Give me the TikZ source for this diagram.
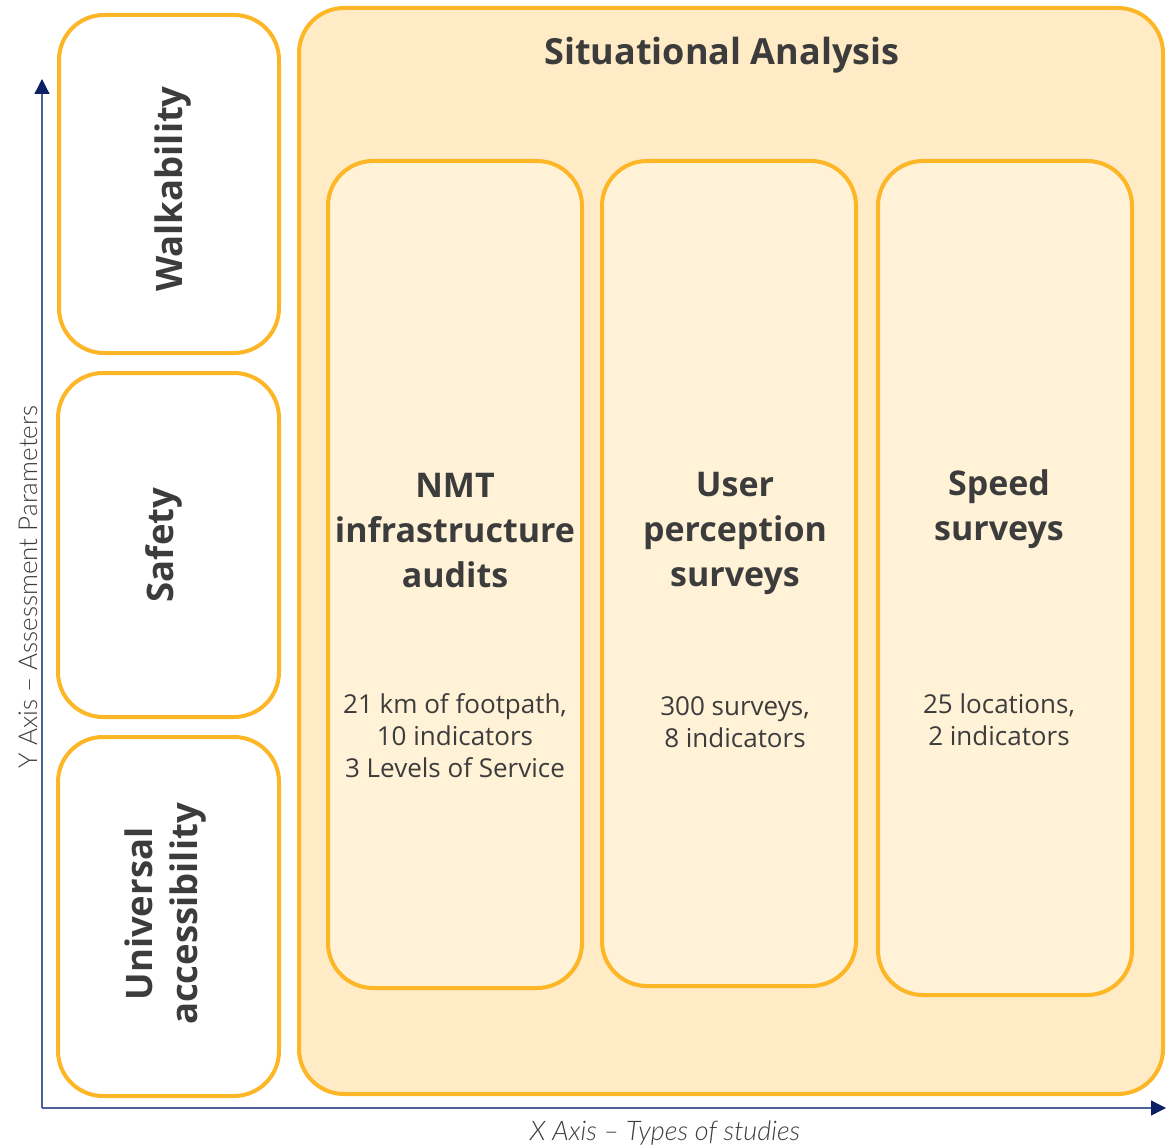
\documentclass[tikz,border=0pt]{standalone}
\usepackage{fontspec}
\setmainfont{Open Sans}
\newfontfamily\lightfont{Lato}[UprightFont=* Light, ItalicFont=* Light Italic]
\usetikzlibrary{arrows.meta}
\definecolor{amber}{HTML}{FDB626}
\definecolor{panelfill}{HTML}{FFEBC5}
\definecolor{cardfill}{HTML}{FFF2D7}
\definecolor{inktext}{HTML}{3C3C3C}
\definecolor{axisline}{HTML}{4A6298}
\definecolor{axishead}{HTML}{0C2164}
\tikzset{
  framebox/.style={draw=amber, line width=4pt, rounded corners=45pt, inner sep=0pt},
  parambox/.style={framebox, fill=white},
  studybox/.style={framebox, fill=cardfill},
  headtext/.style={text=inktext, font=\bfseries\fontsize{34}{45}\selectfont, align=center},
  paramtext/.style={text=inktext, font=\bfseries\fontsize{36.5}{45}\selectfont, align=center, rotate=90},
  bodytext/.style={text=inktext, font=\fontsize{26}{32}\selectfont, align=center},
  axislabel/.style={text=inktext, font=\lightfont\fontsize{26}{30}\selectfont},
  axis/.style={draw=axisline, line width=1.3pt, -{Triangle[length=15pt,width=15pt,color=axishead]}}
}
\begin{document}
\begin{tikzpicture}[x=1pt,y=-1pt]
\useasboundingbox (0,0) rectangle (1174,1147);

% assessment parameter boxes
\node[parambox, minimum width=220pt, minimum height=338pt] (walk) at (169,184) {};
\node[parambox, minimum width=221pt, minimum height=344pt] (safe) at (168.5,545) {};
\node[parambox, minimum width=221pt, minimum height=359pt] (univ) at (168.5,916.5) {};

\node[paramtext] (walkT) at (173,189) {Walkability};
\node[paramtext] (safeT) at (164,545) {Safety};
\node[paramtext] (univT) at (166,914) {Universal\\accessibility};

% situational analysis panel
\node[framebox, fill=panelfill, minimum width=864pt, minimum height=1086pt] (panel) at (731,551) {};
\node[headtext, font=\bfseries\fontsize{36}{45}\selectfont] (title) at (722,55) {Situational Analysis};

% study cards
\node[studybox, minimum width=254pt, minimum height=827pt] (nmt) at (455,574.5) {};
\node[studybox, minimum width=254pt, minimum height=825pt] (user) at (729,573.5) {};
\node[studybox, minimum width=254pt, minimum height=834pt] (speed) at (1005,578) {};

\node[headtext] (nmtT) at (455,531) {NMT\\infrastructure\\audits};
\node[headtext] (userT) at (735,533) {User\\perception\\surveys};
\node[headtext] (speedT) at (999,509) {Speed\\surveys};

\node[bodytext] (nmtB) at (455,736) {21 km of footpath,\\10 indicators\\3 Levels of Service};
\node[bodytext] (userB) at (735,722) {300 surveys,\\8 indicators};
\node[bodytext] (speedB) at (999,720) {25 locations,\\2 indicators};

% axes
\coordinate (origin) at (42,1108);
\coordinate (ytip) at (42,79);
\coordinate (xtip) at (1166,1108);
\draw[axis] (origin) -- (ytip);
\draw[axis] (origin) -- (xtip);
\node[axislabel, rotate=90] (ylab) at (28,587) {Y Axis – Assessment Parameters};
\node[axislabel, font=\lightfont\itshape\fontsize{27}{30}\selectfont] (xlab) at (665,1133) {X Axis – Types of studies};
\end{tikzpicture}
\end{document}
